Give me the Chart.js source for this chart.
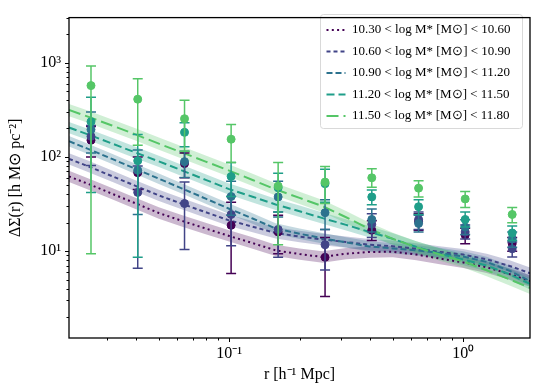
<!DOCTYPE html>
<html>
<head>
<meta charset="utf-8">
<script src="https://cdn.jsdelivr.net/npm/chart.js@4"></script>
<style>
  html, body { margin: 0; padding: 0; background: #fff; }
</style>
</head>
<body>
<canvas id="chart" width="539" height="390"></canvas>
<script>
// stellar mass bins
const binLabels = [
  '10.30 < log M* [M\u2299] < 10.60',
  '10.60 < log M* [M\u2299] < 10.90',
  '10.90 < log M* [M\u2299] < 11.20',
  '11.20 < log M* [M\u2299] < 11.50',
  '11.50 < log M* [M\u2299] < 11.80'
];
const colors = ['#440154', '#414487', '#2c728e', '#1f9e89', '#55c667'];
const dashes = [[2, 3.3], [4, 3], [6, 3], [8, 4], [12, 5]];

// measured points (r in h^-1 Mpc)
const rData = [0.0257, 0.0407, 0.0645, 0.102, 0.162, 0.257, 0.407, 0.645, 1.02, 1.62];

const pts1030 = [150, 68, 85, 18.8, 16, 8.6, 16.7, 20.7, 14.8, 12];
const lo1030  = [100, 45, 60, 5.8, 9.4, 3.3, 13, 16.7, 12, 10];
const hi1030  = [210, 100, 110, 33, 24, 14, 21, 25, 17.5, 14];

const pts1060 = [165, 42, 32, 24.5, 17, 11.7, 19.3, 21.7, 16, 10.6];
const lo1060  = [81, 6.6, 10.4, 11.4, 8.6, 6.3, 14, 17, 13.5, 8.7];
const hi1060  = [215, 80, 54, 38, 26, 17, 25, 26, 19, 12.5];

const pts1090 = [195, 72, 89, 38, 37.6, 25.6, 21.7, 19.7, 18, 13.5];
const lo1090  = [110, 24.5, 60.6, 24, 23, 17, 16, 16, 15, 11];
const hi1090  = [300, 118, 115, 55, 55, 35, 28, 24, 21.5, 16];

const pts1120 = [236, 91, 182, 62, 47, 52, 37.6, 29.6, 21.7, 15.6];
const lo1120  = [42, 8.6, 128, 38, 26, 33, 31, 24.5, 18, 13];
const hi1120  = [428, 173, 230, 87, 67, 74, 44.5, 35, 26, 18.5];

const pts1150 = [570, 409, 254, 154, 49, 54, 60, 46.6, 35.8, 24.5];
const lo1150  = [9.4, 133, 115, 87, 11.7, 32, 47.7, 37.6, 29, 20];
const hi1150  = [920, 675, 399, 220, 87, 79, 75, 56, 43, 29];

// model curves
const rModel = [0.0207, 0.0251, 0.0316, 0.0398, 0.0501, 0.0631, 0.0794, 0.1, 0.126, 0.158, 0.2,
                0.251, 0.316, 0.398, 0.501, 0.631, 0.794, 1.0, 1.26, 1.58, 1.93];
const model1030 = [62.0, 51.5, 40.7, 32.2, 25.4, 20.9, 17.4, 14.5, 12.2, 10.2, 9.31, 8.67, 9.4, 9.8, 9.87, 9.20, 8.36, 7.6, 6.75, 5.71, 4.83];
const model1060 = [95.3, 79.1, 62.5, 49.3, 39.0, 31.7, 25.9, 21.2, 18.2, 15.6, 14.3, 13.3, 12.5, 11.7, 11.3, 10.6, 9.83, 9.20, 8.20, 6.97, 5.84];
const model1090 = [146.5, 121, 95.1, 74.7, 58.7, 46.0, 36.1, 28.2, 22.2, 17.4, 15.3, 13.7, 12.4, 11.2, 10.7, 10.2, 9.56, 8.77, 7.69, 6.19, 4.83];
const model1120 = [204.6, 172.3, 138.7, 111.3, 89.6, 71.6, 57.1, 45.5, 37.8, 31.3, 26.5, 22.4, 19.0, 16.0, 13.5, 11.1, 9.35, 8.16, 7.04, 5.68, 4.50];
const model1150 = [314, 266, 215, 173, 138, 111, 89.2, 71.6, 56.9, 45.2, 36.7, 30.0, 22.9, 17.2, 13.5, 11.0, 9.22, 7.78, 6.28, 5.02, 4.09];
const bandDex = [0.06, 0.06, 0.055, 0.06, 0.065];

const xTickValues = [0.1, 1];
const xTickLabels = ['10\u207B\u00B9', '10\u2070'];
const yTickValues = [10, 100, 1000];
const yTickLabels = ['10\u00B9', '10\u00B2', '10\u00B3'];

const points = [pts1030, pts1060, pts1090, pts1120, pts1150];
const lows = [lo1030, lo1060, lo1090, lo1120, lo1150];
const highs = [hi1030, hi1060, hi1090, hi1120, hi1150];
const models = [model1030, model1060, model1090, model1120, model1150];

function withAlpha(hex, a) {
  const n = parseInt(hex.slice(1), 16);
  return 'rgba(' + (n >> 16) + ',' + ((n >> 8) & 255) + ',' + (n & 255) + ',' + a + ')';
}

const datasets = [];
for (let s = 0; s < 5; s++) {
  const f = Math.pow(10, bandDex[s]);
  datasets.push({
    data: rModel.map((r, i) => ({x: r, y: models[s][i] / f})),
    borderWidth: 0, pointRadius: 0, fill: false, order: 20 + (4 - s)
  });
  datasets.push({
    data: rModel.map((r, i) => ({x: r, y: models[s][i] * f})),
    borderWidth: 0, pointRadius: 0, fill: '-1',
    backgroundColor: withAlpha(colors[s], 0.28), order: 20 + (4 - s)
  });
  datasets.push({
    label: binLabels[s], isModel: true,
    data: rModel.map((r, i) => ({x: r, y: models[s][i]})),
    borderColor: colors[s], backgroundColor: colors[s], borderDash: dashes[s],
    borderWidth: 2, pointRadius: 0, fill: false, order: 10 + (4 - s)
  });
  datasets.push({
    data: rData.map((r, i) => ({x: r, y: points[s][i]})),
    errLo: lows[s], errHi: highs[s],
    showLine: false, pointRadius: 4, pointHoverRadius: 4,
    borderColor: colors[s], backgroundColor: colors[s], order: 4 - s
  });
}

// error bars, drawn right before each point set
const errorBars = {
  id: 'errorBars',
  beforeDatasetDraw(chart, args) {
    const ds = chart.data.datasets[args.index];
    if (!ds.errLo) return;
    const {ctx, chartArea: a} = chart;
    const xs = chart.scales.x, ys = chart.scales.y;
    ctx.save();
    ctx.beginPath();
    ctx.rect(a.left, a.top, a.right - a.left, a.bottom - a.top);
    ctx.clip();
    ctx.strokeStyle = ds.borderColor;
    ctx.lineWidth = 1.5;
    ds.data.forEach((p, i) => {
      const px = xs.getPixelForValue(p.x);
      const top = ys.getPixelForValue(ds.errHi[i]);
      const bot = ys.getPixelForValue(ds.errLo[i]);
      ctx.beginPath();
      ctx.moveTo(px, top); ctx.lineTo(px, bot);
      ctx.moveTo(px - 5, top); ctx.lineTo(px + 5, top);
      ctx.moveTo(px - 5, bot); ctx.lineTo(px + 5, bot);
      ctx.stroke();
    });
    ctx.restore();
  }
};

// legend box, box around the plot plus outward major/minor ticks
const frameTicks = {
  id: 'frameTicks',
  beforeDraw(chart) {
    const ctx = chart.ctx;
    ctx.save();
    ctx.fillStyle = 'rgba(255,255,255,0.8)';
    ctx.strokeStyle = '#d9d9d9';
    ctx.lineWidth = 1;
    ctx.beginPath();
    ctx.roundRect(320.5, 14.5, 202, 114, 3);
    ctx.fill();
    ctx.stroke();
    ctx.restore();
  },
  afterLayout(chart) {
    const lg = chart.legend;
    lg.left = 318; lg.top = 15; lg.right = 522; lg.bottom = 200;
  },
  afterDraw(chart) {
    const {ctx, chartArea: a, scales} = chart;
    ctx.save();
    ctx.strokeStyle = '#000';
    ctx.lineWidth = 1;
    scales.x.ticks.forEach(t => {
      const p = Math.round(scales.x.getPixelForValue(t.value)) + 0.5;
      const len = xTickValues.includes(t.value) ? 4 : 2.5;
      ctx.beginPath(); ctx.moveTo(p, a.bottom); ctx.lineTo(p, a.bottom + len); ctx.stroke();
    });
    scales.y.ticks.forEach(t => {
      const p = Math.round(scales.y.getPixelForValue(t.value)) + 0.5;
      const len = yTickValues.includes(t.value) ? 4 : 2.5;
      ctx.beginPath(); ctx.moveTo(a.left, p); ctx.lineTo(a.left - len, p); ctx.stroke();
    });
    ctx.lineWidth = 1.3;
    ctx.strokeRect(a.left, a.top, a.right - a.left, a.bottom - a.top);
    ctx.restore();
  }
};

function decadeTicks(scale) {
  const list = [];
  for (let e = Math.floor(Math.log10(scale.min)); e <= Math.ceil(Math.log10(scale.max)); e++) {
    for (let m = 1; m < 10; m++) {
      const v = parseFloat((m * Math.pow(10, e)).toPrecision(6));
      if (v >= scale.min && v <= scale.max) list.push({value: v});
    }
  }
  scale.ticks = list;
}

Chart.defaults.font.family = "'Liberation Serif', serif";
Chart.defaults.color = '#000';

new Chart(document.getElementById('chart'), {
  type: 'line',
  data: {datasets: datasets},
  options: {
    responsive: false,
    animation: false,
    layout: {padding: {top: 10, right: 9, left: 0, bottom: 0}},
    plugins: {
      tooltip: {enabled: false},
      legend: {
        position: 'chartArea',
        align: 'start',
        labels: {
          generateLabels: chart => {
            const items = Chart.defaults.plugins.legend.labels.generateLabels(chart);
            items.forEach(it => {
              const ds = chart.data.datasets[it.datasetIndex];
              it.lineDash = ds.borderDash;
              it.lineWidth = 2;
              it.strokeStyle = ds.borderColor;
            });
            return items;
          },
          filter: (item, data) => data.datasets[item.datasetIndex].isModel,
          sort: (a, b) => a.datasetIndex - b.datasetIndex,
          usePointStyle: true,
          pointStyle: 'line',
          pointStyleWidth: 19,
          padding: 8.5,
          font: {size: 13},
          color: '#000'
        }
      }
    },
    scales: {
      x: {
        type: 'logarithmic',
        min: 0.0207, max: 1.93,
        afterBuildTicks: decadeTicks,
        afterFit: s => { s.height = 52; },
        grid: {display: false, drawTicks: false},
        border: {display: false},
        ticks: {
          autoSkip: false, maxRotation: 0, padding: 6,
          font: {size: 16},
          callback: v => { const k = xTickValues.indexOf(v); return k >= 0 ? xTickLabels[k] : ''; }
        },
        title: {display: true, text: 'r [h\u207B\u00B9 Mpc]', font: {size: 16}, padding: {top: 0, bottom: 6}}
      },
      y: {
        type: 'logarithmic',
        min: 1.2, max: 3000,
        afterBuildTicks: decadeTicks,
        afterFit: s => { s.width = 69; },
        grid: {display: false, drawTicks: false},
        border: {display: false},
        ticks: {
          autoSkip: false, padding: 8,
          font: {size: 16},
          callback: v => { const k = yTickValues.indexOf(v); return k >= 0 ? yTickLabels[k] : ''; }
        },
        title: {display: true, text: '\u0394\u03A3(r) [h M\u2299 pc\u207B\u00B2]', font: {size: 16}, padding: {top: 6, bottom: 0}}
      }
    }
  },
  plugins: [errorBars, frameTicks]
});
</script>
</body>
</html>
